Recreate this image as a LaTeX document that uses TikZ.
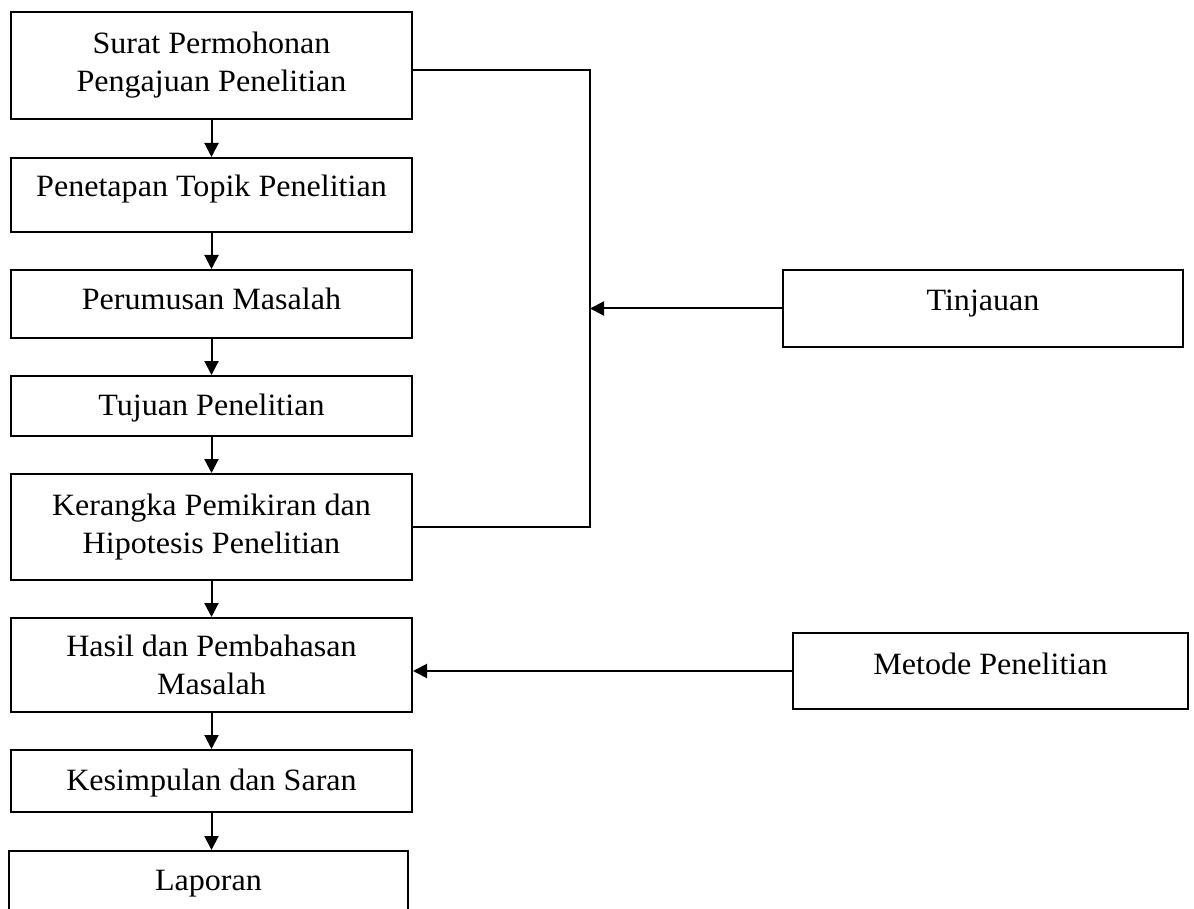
\documentclass[tikz,border=0pt]{standalone}
\usepackage{fontspec}
\setmainfont[FakeStretch=1.035]{Liberation Serif}
\usetikzlibrary{arrows.meta}
\begin{document}
\begin{tikzpicture}[x=1pt,y=-1pt,
  box/.style={draw=black,line width=2pt,inner sep=0pt,align=center,
    font=\fontsize{31}{38}\selectfont},
  tb/.style={text height=21pt,text depth=#1},
  conn/.style={line width=2pt,draw=black},
  arr/.style={conn,-{Triangle[length=14pt,width=14pt]}}]
\useasboundingbox (0,0) rectangle (1194,909);
\node[box,minimum width=401pt,minimum height=107pt] (surat) at (211.5,65.5) {Surat Permohonan\\Pengajuan Penelitian};
\node[box,tb=17pt,minimum width=401pt,minimum height=74pt] (topik) at (211.5,195) {Penetapan Topik Penelitian};
\node[box,tb=9pt,minimum width=401pt,minimum height=68pt] (rumus) at (211.5,304) {Perumusan Masalah};
\node[box,tb=3pt,minimum width=401pt,minimum height=60pt] (tujuan) at (211.5,406) {Tujuan Penelitian};
\node[box,minimum width=401pt,minimum height=106pt] (kerangka) at (211.5,527) {Kerangka Pemikiran dan\\Hipotesis Penelitian};
\node[box,minimum width=401pt,minimum height=94pt] (hasil) at (211.5,665) {Hasil dan Pembahasan\\Masalah};
\node[box,tb=3pt,minimum width=401pt,minimum height=62pt] (simpul) at (211.5,781) {Kesimpulan dan Saran};
\node[box,tb=7pt,minimum width=399pt,minimum height=64pt] (lapor) at (208.5,883) {Laporan};
\node[box,tb=16pt,minimum width=400pt,minimum height=77pt] (tinjau) at (983,308.5) {Tinjauan};
\node[box,tb=15pt,minimum width=395pt,minimum height=76pt] (metode) at (990.5,671) {Metode Penelitian};
\coordinate (jt) at (590,70);
\coordinate (jb) at (590,527);
\draw[arr] (surat.south) -- (topik.north);
\draw[arr] (topik.south) -- (rumus.north);
\draw[arr] (rumus.south) -- (tujuan.north);
\draw[arr] (tujuan.south) -- (kerangka.north);
\draw[arr] (kerangka.south) -- (hasil.north);
\draw[arr] (hasil.south) -- (simpul.north);
\draw[arr] (simpul.south) -- (simpul.south |- lapor.north);
\draw[conn] (surat.east |- jt) -- (jt) -- (jb) -- (kerangka.east |- jb);
\draw[arr] (tinjau.west) -- (jt |- tinjau.west);
\draw[arr] (metode.west) -- (hasil.east |- metode.west);
\end{tikzpicture}
\end{document}
